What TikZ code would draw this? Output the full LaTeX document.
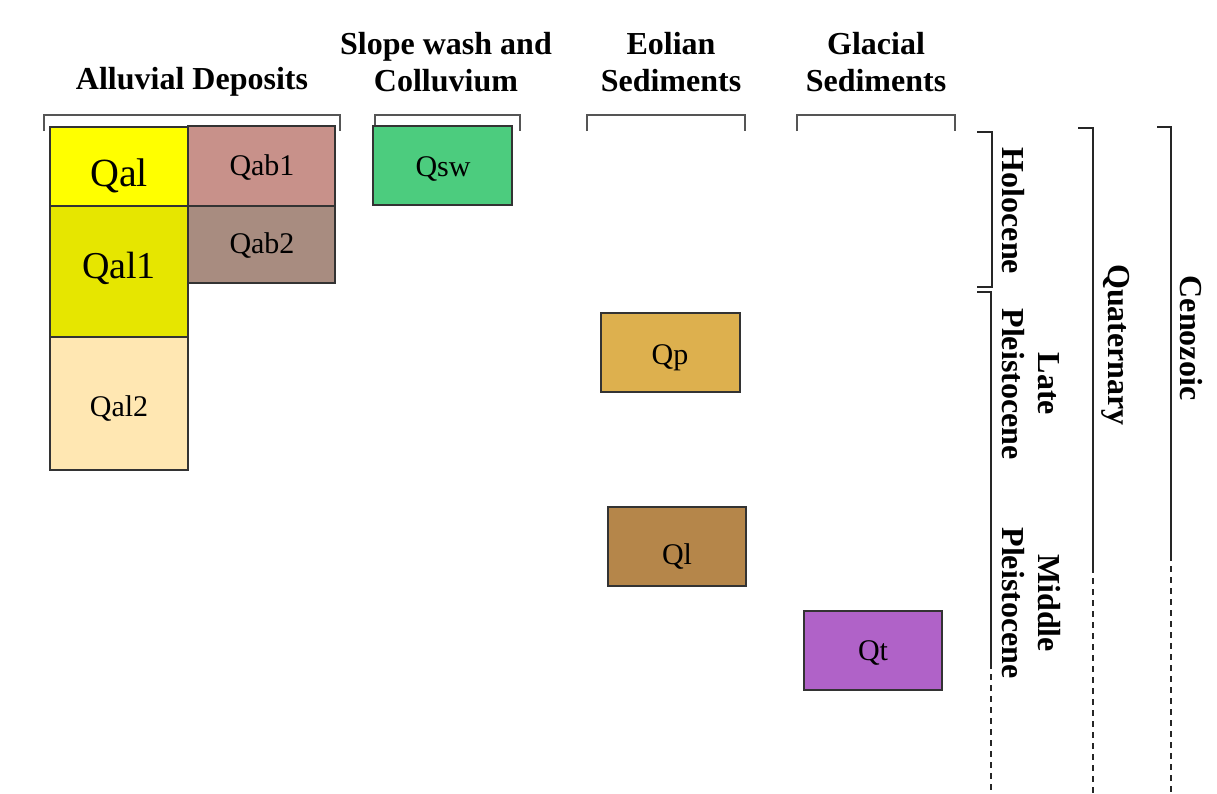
\documentclass[tikz,border=0pt]{standalone}
\usepackage{fontspec}
\setmainfont{Liberation Serif}
\definecolor{cQal}{HTML}{FFFF00}
\definecolor{cQalone}{HTML}{E6E600}
\definecolor{cQaltwo}{HTML}{FFE7B2}
\definecolor{cQabone}{HTML}{C8918A}
\definecolor{cQabtwo}{HTML}{A88C80}
\definecolor{cQsw}{HTML}{4CCC7E}
\definecolor{cQp}{HTML}{DDB04E}
\definecolor{cQl}{HTML}{B5864A}
\definecolor{cQt}{HTML}{B062C8}
\definecolor{brk}{HTML}{555555}
\tikzset{
  unitbox/.style={draw=black!80, line width=1.5pt},
  lbl/.style={font=\fontsize{30}{34}\selectfont},
  hdr/.style={font=\fontsize{32}{37}\selectfont\bfseries, align=center, inner sep=0pt},
  vlab/.style={font=\fontsize{32}{36}\selectfont\bfseries, align=center, rotate=-90, inner sep=0pt},
  bracket/.style={draw=brk, line width=1.5pt},
  ageline/.style={draw=black!85, line width=1.2pt},
  agedash/.style={draw=black!85, line width=1.2pt, dash pattern=on 6pt off 5pt},
}
\begin{document}
\begin{tikzpicture}[x=1pt,y=-1pt]
\useasboundingbox (0,0) rectangle (1217,793);
% headers
\node[hdr] (hAll) at (192,82) {Alluvial Deposits};
\node[hdr] (hSlope) at (446,62) {Slope wash and\\Colluvium};
\node[hdr] (hEol) at (671,62) {Eolian\\Sediments};
\node[hdr] (hGla) at (876,62) {Glacial\\Sediments};
% brackets
\draw[bracket] (44,131) -- (44,115) -- (340,115) -- (340,131);
\draw[bracket] (375,131) -- (375,115) -- (520,115) -- (520,131);
\draw[bracket] (587,131) -- (587,115) -- (745,115) -- (745,131);
\draw[bracket] (797,131) -- (797,115) -- (955,115) -- (955,131);
% boxes
\draw[unitbox, fill=cQabone] (188,126) rectangle (335,206);
\draw[unitbox, fill=cQabtwo] (188,206) rectangle (335,283);
\draw[unitbox, fill=cQal] (50,127) rectangle (188,206);
\draw[unitbox, fill=cQalone] (50,206) rectangle (188,337);
\draw[unitbox, fill=cQaltwo] (50,337) rectangle (188,470);
\draw[unitbox, fill=cQsw] (373,126) rectangle (512,205);
\draw[unitbox, fill=cQp] (601,313) rectangle (740,392);
\draw[unitbox, fill=cQl] (608,507) rectangle (746,586);
\draw[unitbox, fill=cQt] (804,611) rectangle (942,690);
% box labels
\node[font=\fontsize{40}{44}\selectfont] (Qal) at (119,176) {Qal};
\node[font=\fontsize{38}{42}\selectfont] (Qal1) at (119,268) {Qal1};
\node[lbl] (Qal2) at (119,409) {Qal2};
\node[lbl] (Qab1) at (262,168) {Qab1};
\node[lbl] (Qab2) at (262,246) {Qab2};
\node[lbl] (Qsw) at (443,169) {Qsw};
\node[lbl] (Qp) at (670,358) {Qp};
\node[lbl] (Ql) at (677,557) {Ql};
\node[lbl] (Qt) at (873,653) {Qt};
% time scale lines
\coordinate (hT0) at (977,132); \coordinate (hT1) at (992,132);
\coordinate (hB1) at (992,287); \coordinate (hB0) at (977,287);
\draw[ageline] (hT0) -- (hT1) -- (hB1) -- (hB0);
\coordinate (pT0) at (977,292); \coordinate (pT1) at (991,292);
\coordinate (pS) at (991,663); \coordinate (pE) at (991,793);
\draw[ageline] (pT0) -- (pT1) -- (pS);
\draw[agedash] (pS) -- (pE);
\coordinate (qT0) at (1078,128); \coordinate (qT1) at (1093,128);
\coordinate (qS) at (1093,567); \coordinate (qE) at (1093,793);
\draw[ageline] (qT0) -- (qT1) -- (qS);
\draw[agedash] (qS) -- (qE);
\coordinate (cT0) at (1157,127); \coordinate (cT1) at (1171,127);
\coordinate (cS) at (1171,555); \coordinate (cE) at (1171,793);
\draw[ageline] (cT0) -- (cT1) -- (cS);
\draw[agedash] (cS) -- (cE);
% vertical labels
\node[vlab] (holo) at (1013,211) {Holocene};
\node[vlab] (latep) at (1031,384) {Late\\Pleistocene};
\node[vlab] (midp) at (1031,603) {Middle\\Pleistocene};
\node[vlab] (quat) at (1116,345) {Quaternary};
\node[vlab] (ceno) at (1191,338) {Cenozoic};
\end{tikzpicture}
\end{document}
